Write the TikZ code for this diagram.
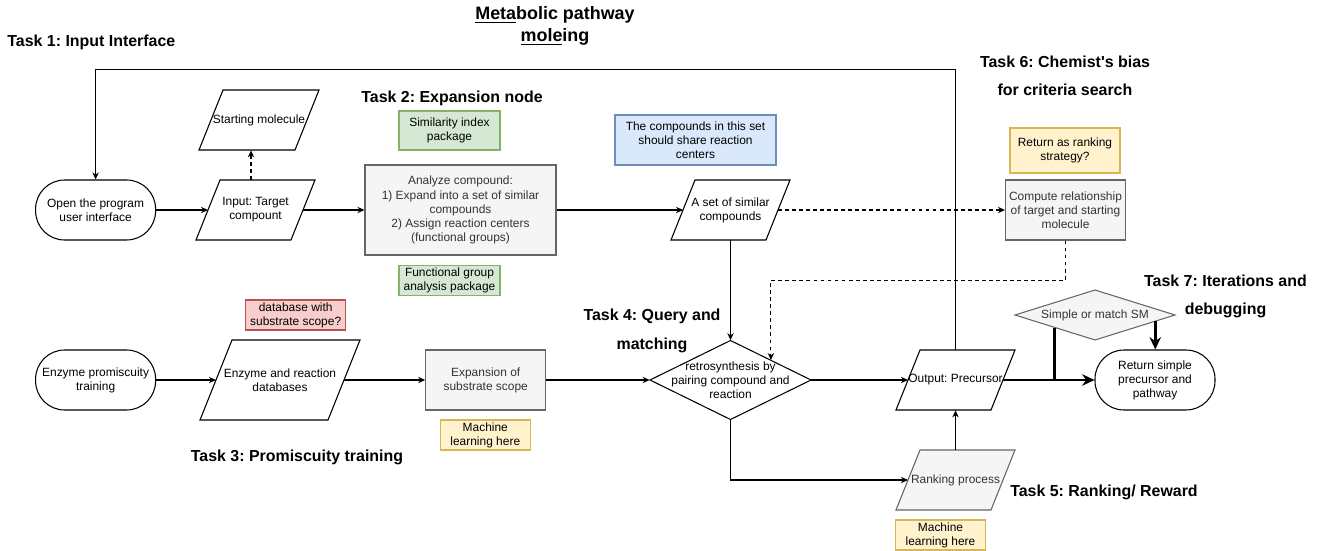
\documentclass[tikz,border=0pt]{standalone}
\usepackage{fontspec}
\setmainfont{Liberation Sans}
\newfontfamily\rawfont{Liberation Sans}
\usetikzlibrary{arrows.meta,calc}
\definecolor{gfill}{HTML}{F5F5F5}
\definecolor{gline}{HTML}{666666}
\definecolor{gtext}{HTML}{333333}
\definecolor{grfill}{HTML}{D5E8D4}
\definecolor{grline}{HTML}{82B366}
\definecolor{blfill}{HTML}{DAE8FC}
\definecolor{blline}{HTML}{6C8EBF}
\definecolor{yefill}{HTML}{FFF2CC}
\definecolor{yeline}{HTML}{D6B656}
\definecolor{rdfill}{HTML}{F8CECC}
\definecolor{rdline}{HTML}{B85450}
\newdimen\pu \pu=0.02cm
\frenchspacing
% parallelogram: name, cx, cy, w, h, slant, path style, text
\newcommand\myPara[8]{%
  \draw[#7] ({#2-#4/2+#6},{#3-#5/2}) -- ({#2+#4/2},{#3-#5/2}) -- ({#2+#4/2-#6},{#3+#5/2}) -- ({#2-#4/2},{#3+#5/2}) -- cycle;
  \node[base, minimum width=#4\pu, minimum height=#5\pu] (#1) at (#2,#3) {#8};
  \coordinate (#1-w) at ({#2-#4/2+#6/2},#3);
  \coordinate (#1-e) at ({#2+#4/2-#6/2},#3);
}
% diamond: name, cx, cy, w, h, path style, text
\newcommand\myDiam[7]{%
  \draw[#6] ({#2-#4/2},#3) -- (#2,{#3-#5/2}) -- ({#2+#4/2},#3) -- (#2,{#3+#5/2}) -- cycle;
  \node[base, minimum width=#4\pu, minimum height=#5\pu] (#1) at (#2,#3) {#7};
}
\begin{document}
\begin{tikzpicture}[x=0.02cm,y=-0.02cm,
  base/.style={font=\fontsize{6.8}{8}\selectfont, align=center, inner sep=0pt},
  ln/.style={line width=0.6pt},
  plain/.style={base, ln, draw=black},
  stadium/.style={plain, rounded corners=16.5pt, minimum width=120\pu, minimum height=60\pu},
  gbox/.style={base, ln, draw=gline, fill=gfill, text=gtext},
  grbox/.style={base, ln, draw=grline, fill=grfill},
  blbox/.style={base, ln, draw=blline, fill=blfill},
  yebox/.style={base, ln, draw=yeline, fill=yefill},
  rdbox/.style={base, ln, draw=rdline, fill=rdfill},
  tasktitle/.style={font=\fontsize{9.07}{16.2}\selectfont\bfseries, align=center, inner sep=0pt},
  arr/.style={ln, -{Stealth[length=4pt,width=3.6pt]}},
  dsh/.style={dash pattern=on 2.2pt off 1.8pt},
  thk/.style={line width=1.7pt},
  tarr/.style={thk, -{Stealth[length=7pt,width=6.5pt]}}
]
\useasboundingbox (0,0) rectangle (1326,551);
\fill[white] (0,0) rectangle (1326,551);

% titles
\node[font=\fontsize{10.2}{12.3}\selectfont\bfseries, align=center, inner sep=0pt] (maintitle) at (555,26) {\underline{Meta}bolic pathway\\\underline{mole}ing};
\node[tasktitle, anchor=west] (t1) at (7,42) {Task 1: Input Interface};
\node[tasktitle] (t2) at (452,98) {Task 2: Expansion node};
\node[tasktitle] (t3) at (297,457) {Task 3: Promiscuity training};
\node[tasktitle] (t4) at (652,331) {Task 4: Query and\\matching};
\node[tasktitle] (t5) at (1104,492) {Task 5: Ranking/ Reward};
\node[tasktitle] (t6) at (1065,76) {Task 6: Chemist{\rawfont\bfseries '}s bias\\for criteria search};
\node[tasktitle] (t7) at (1225.5,296.5) {Task 7: Iterations and\\debugging};

% row 1
\node[stadium] (open) at (95.6,210) {Open the program\\user interface};
\myPara{inp}{255.5}{210}{119}{60}{24}{ln, draw=black, fill=white}{Input: Target\\compount}
\myPara{start}{259}{120}{120}{60}{24}{ln, draw=black, fill=white}{Starting molecule}
\node[gbox, minimum width=191\pu, minimum height=90\pu] (ana) at (460.5,210) {Analyze compound:\\1) Expand into a set of similar\\compounds\\2) Assign reaction centers\\(functional groups)};
\node[grbox, minimum width=101\pu, minimum height=39\pu] (sim) at (449.5,130.5) {Similarity index\\package};
\node[grbox, minimum width=101\pu, minimum height=30\pu] (fg) at (449.5,280.5) {Functional group\\analysis package};
\node[blbox, minimum width=161\pu, minimum height=50\pu] (note) at (695.5,140) {The compounds in this set\\should share reaction\\centers};
\myPara{set}{730.5}{210}{119}{60}{24}{ln, draw=black, fill=white}{A set of similar\\compounds};
\node[yebox, minimum width=110\pu, minimum height=45\pu] (rank2) at (1065,150.5) {Return as ranking\\strategy?};
\node[gbox, minimum width=120\pu, minimum height=60\pu] (comp) at (1065.5,210) {Compute relationship\\of target and starting\\molecule};

% row 2
\node[stadium] (enz) at (95.6,380) {Enzyme promiscuity\\training};
\myPara{edb}{280}{380}{160}{80}{32}{ln, draw=black, fill=white}{Enzyme and reaction\\databases}
\node[rdbox, minimum width=100\pu, minimum height=30\pu] (dbq) at (295.7,315) {database with\\substrate scope?};
\node[gbox, minimum width=120\pu, minimum height=60\pu] (exp) at (485.7,380) {Expansion of\\substrate scope};
\node[yebox, minimum width=90\pu, minimum height=30\pu] (ml1) at (485.3,435) {Machine\\learning here};
\myDiam{retro}{730.5}{380}{161}{79}{ln, draw=black, fill=white}{retrosynthesis by\\pairing compound and\\reaction}
\myPara{out}{955.5}{380}{119}{60}{24}{ln, draw=black, fill=white}{Output: Precursor}
\myPara{rank}{955.5}{480}{119}{60}{24}{ln, draw=gline, fill=gfill}{\color{gtext}Ranking process}
\node[yebox, minimum width=90\pu, minimum height=30\pu] (ml2) at (940.5,535) {Machine\\learning here};
\myDiam{sm}{1095}{315}{160}{50}{ln, draw=gline, fill=gfill}{\color{gtext}Simple or match SM}
\node[stadium] (ret) at (1155,380) {Return simple\\precursor and\\pathway};

% connectors row 1
\draw[arr] (open.east) -- (inp-w);
\draw[arr, dsh] ([xshift=-4.5\pu]inp.north) -- ([xshift=-4.5\pu]inp.north |- start.south);
\draw[arr] (inp-e) -- (ana.west);
\draw[arr] (ana.east) -- (set-w);
\draw[arr, dsh] (set-e) -- (comp.west);
\coordinate (retroNE) at ($(retro.north)!0.5!(retro.east)$);
\draw[arr, dsh] (comp.south) -- ++(0,40) -| (retroNE);
\draw[arr] (set.south) -- (retro.north);

% connectors row 2
\draw[arr] (enz.east) -- (edb-w);
\draw[arr] (edb-e) -- (exp.west);
\draw[arr] (exp.east) -- (retro.west);
\draw[arr] (retro.east) -- (out-w);
\draw[arr] (retro.south) |- (rank-w);
\draw[arr] (rank.north) -- (out.south);
\draw[arr] (out.north) |- ($(open.north)+(0,-110)$) -- (open.north);

% task 7 thick connectors
\draw[tarr] (out-e) -- (ret.west);
\coordinate (smL) at ($(sm.south)!0.5!(sm.west)$);
\coordinate (smR) at ($(sm.south)!0.75!(sm.east)$);
\draw[thk] (smL) -- (smL |- ret.west);
\draw[tarr] (smR) -- (smR |- ret.north);
\end{tikzpicture}
\end{document}
